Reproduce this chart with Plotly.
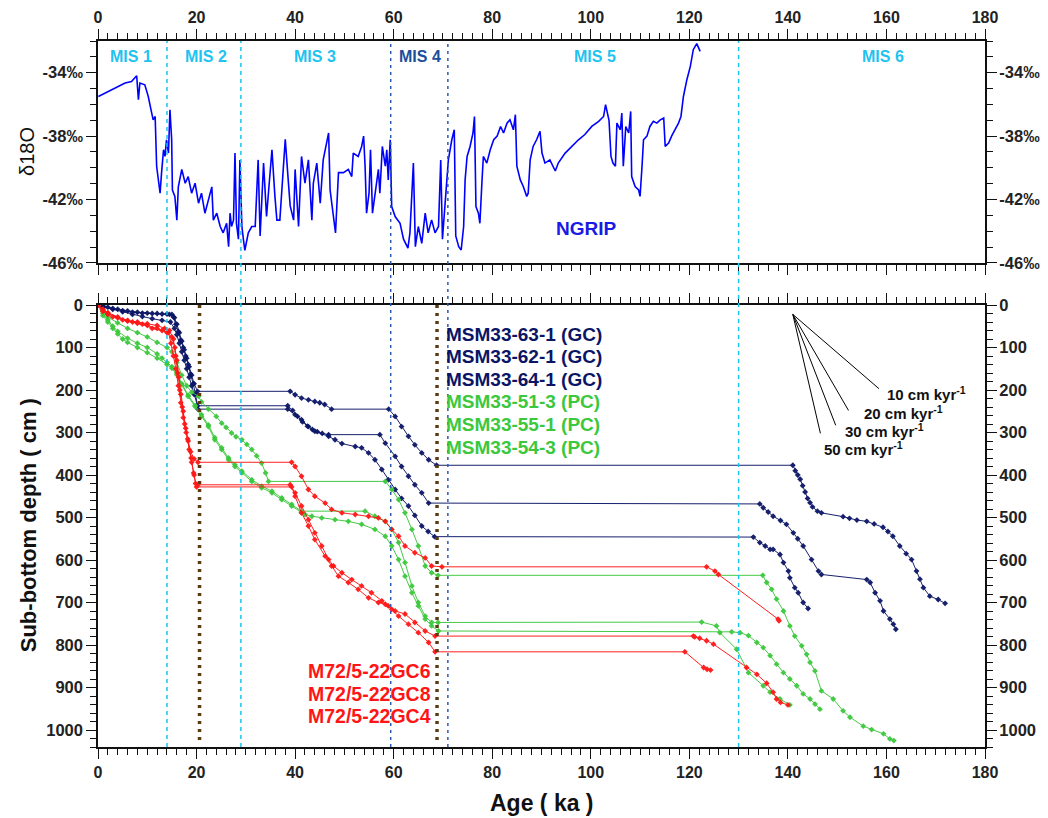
import plotly.graph_objects as go

# ---------------- NGRIP d18O ----------------
ngrip_age = [0.07, 1.4, 2.8, 4.1, 5.5, 6.8, 7.85, 8.2, 8.5, 9.5, 10.2, 10.9, 11.2, 11.6, 11.9, 12.25, 12.6, 12.9,
             13.3, 13.6, 13.9, 14.3, 14.6, 14.95, 15.1, 15.6, 16.0, 16.3, 17.0, 17.7, 18.3, 19.0, 19.7, 20.4, 21.0,
             21.7, 22.4, 23.1, 23.4, 24.1, 24.8, 25.4, 26.1, 26.5, 26.8, 27.1, 27.5, 27.8, 28.1, 28.5, 28.8, 29.2,
             29.5, 29.8, 30.5, 31.2, 31.9, 32.5, 32.9, 33.6, 34.2, 35.3, 35.9, 36.3, 36.9, 38.0, 38.6, 39.0, 39.7,
             40.0, 40.7, 41.3, 42.0, 42.7, 43.4, 43.7, 44.4, 45.1, 45.7, 46.8, 47.1, 47.8, 48.2, 48.8, 49.8, 50.8,
             51.5, 51.8, 52.8, 53.5, 53.9, 54.2, 54.5, 55.0, 55.3, 55.7, 56.2, 56.9, 57.2, 57.7, 58.3, 58.6, 58.9,
             59.3, 59.6, 60.3, 61.3, 62.0, 62.9, 63.3, 64.0, 64.4, 65.0, 65.7, 66.4, 67.0, 67.7, 68.4, 69.1, 69.55,
             69.9, 70.4, 71.1, 71.8, 72.3, 72.6, 73.2, 73.7, 74.2, 74.5, 74.9, 75.5, 76.1, 76.4, 76.7, 77.2, 77.5,
             77.9, 78.2, 78.9, 79.6, 80.3, 81.0, 81.7, 82.3, 83.0, 83.6, 84.3, 84.7, 85.0, 85.7, 86.3, 87.0, 87.3,
             87.7, 88.3, 89.0, 89.7, 90.1, 90.7, 91.7, 92.8, 93.4, 94.8, 96.1, 97.5, 98.8, 100.2, 101.6, 102.6,
             103.0, 103.7, 104.1, 104.5, 105.0, 105.3, 106.0, 106.3, 106.6, 107.1, 107.7, 108.1, 108.3, 109.0,
             109.7, 110.0, 110.4, 110.7, 111.4, 112.0, 112.7, 113.4, 114.1, 114.8, 115.1, 115.8, 116.4, 117.1,
             117.8, 118.3, 118.8, 119.5, 120.2, 120.8, 121.5, 122.2]
ngrip_d18o = [-35.5, -35.28, -35.07, -34.86, -34.65, -34.55, -34.19, -35.7, -34.65, -34.76, -35.5, -36.55, -36.97,
              -36.76, -39.9, -40.76, -41.6, -40.3, -38.86, -39.28, -38.23, -39.07, -36.34, -38.23, -41.4, -41.8,
              -43.3, -41.2, -40.1, -40.97, -40.55, -41.6, -40.97, -42.23, -41.6, -42.86, -42.0, -41.2, -43.3,
              -42.86, -43.7, -44.1, -43.5, -44.97, -42.86, -43.7, -43.3, -39.07, -43.5, -44.5, -39.5, -43.7,
              -44.5, -45.2, -44.1, -43.7, -43.7, -39.5, -44.3, -39.7, -43.07, -38.86, -41.8, -43.3, -43.3, -38.2,
              -40.76, -42.4, -43.3, -40.1, -43.7, -39.28, -40.97, -39.5, -43.3, -40.97, -39.7, -42.23, -39.5,
              -37.8, -41.4, -43.3, -44.1, -40.3, -40.3, -40.1, -40.55, -39.07, -39.28, -38.65, -38.0, -39.9,
              -42.86, -41.6, -38.86, -42.86, -41.8, -40.1, -41.6, -38.65, -39.9, -38.86, -40.76, -38.23, -42.44,
              -43.07, -43.5, -44.5, -45.07, -44.1, -39.7, -44.97, -43.7, -44.76, -42.86, -44.1, -43.28, -44.1,
              -43.7, -39.5, -44.5, -42.44, -39.5, -38.23, -37.6, -44.3, -44.97, -45.18, -43.7, -40.76, -39.28,
              -38.65, -37.8, -36.76, -42.44, -42.86, -43.5, -40.97, -39.28, -39.7, -38.86, -38.23, -38.0, -37.39,
              -37.8, -37.18, -36.97, -37.6, -36.65, -39.9, -40.76, -41.18, -41.8, -41.6, -39.5, -38.65, -38.23,
              -37.7, -39.07, -39.7, -39.5, -40.2, -39.7, -39.07, -38.65, -38.23, -37.9, -37.39, -37.07, -36.76,
              -36.02, -37.0, -39.28, -39.7, -39.9, -37.18, -37.6, -36.55, -39.9, -37.39, -37.8, -36.44, -40.55,
              -41.18, -41.39, -41.8, -39.9, -38.23, -38.0, -37.39, -37.07, -37.18, -36.97, -36.86, -38.65, -38.44,
              -38.0, -37.6, -37.18, -36.76, -35.5, -34.44, -33.6, -32.55, -32.17, -32.65]

# ---------------- Core age-depth series ----------------
n1_age = [0, 1, 2, 4, 6, 8, 10, 12, 14, 15, 15.5, 16, 16.5, 17, 17.5, 18, 18.5, 19, 19.5, 20.2, 39.0, 40.0, 41.3,
          42.7, 44.0, 45.0, 46.0, 47.4, 59.0, 60.3, 61.6, 63.0, 64.3, 65.7, 67.1, 68.7, 141.0, 141.5, 142.0, 142.5,
          143.0, 143.5, 144.0, 144.5, 145.0, 146.0, 146.8, 151.2, 152.5, 154.0, 156.0, 157.5, 159.3, 160.3, 161.3,
          162.7, 164.0, 165.1, 166.1, 166.8, 167.5, 168.8, 170.5, 171.9]
n1_depth = [0, 2, 5, 10, 14, 17, 19, 20, 21, 22, 30, 45, 65, 85, 105, 125, 145, 165, 185, 203, 203, 211, 219,
            223, 227, 230, 234, 245, 245, 262, 286, 309, 329, 348, 364, 377, 377, 390, 400, 410, 425, 440, 455,
            465, 475, 485, 489, 498, 502, 506, 509, 515, 523, 533, 544, 567, 585, 599, 626, 645, 665, 685, 693, 702]

n2_age = [0, 1, 3, 5, 7, 9, 11, 13, 14.7, 15.5, 16, 16.5, 17, 17.5, 18, 18.5, 19, 19.5, 20.2, 38.5, 39.5, 40.5,
          41.5, 42.5, 43.5, 44.5, 45.5, 46.8, 57.2, 58.3, 60.3, 61.6, 63.0, 64.3, 65.7, 67.1, 134.3, 135.0, 136.0,
          137.0, 138.5, 139.7, 141.1, 142.0, 143.1, 144.8, 146.2, 146.8, 156.0, 156.7, 157.7, 158.7, 159.4, 160.7,
          161.4, 161.9]
n2_depth = [0, 5, 10, 16, 22, 27, 32, 36, 40, 55, 70, 90, 110, 130, 150, 170, 190, 210, 237, 237, 248, 262, 275,
            285, 293, 298, 302, 305, 305, 325, 356, 380, 403, 423, 442, 466, 468, 477, 487, 497, 507, 516, 536, 550,
            567, 599, 626, 634, 646, 653, 677, 696, 720, 739, 751, 763]

n3_age = [0, 1, 3, 5, 7, 9, 11, 13, 14.5, 15.3, 15.8, 16.3, 16.8, 17.3, 17.8, 18.3, 18.8, 19.3, 19.8, 20.3, 38.5,
          40.0, 41.3, 42.7, 44.0, 46.8, 48.1, 49.5, 52.2, 53.5, 54.9, 56.2, 57.6, 58.9, 60.3, 61.6, 63.0, 64.3,
          65.7, 67.0, 68.3, 133.0, 134.3, 135.4, 136.4, 137.0, 138.4, 139.1, 140.1, 140.4, 141.4, 142.1, 143.1, 144.1]
n3_depth = [0, 3, 8, 13, 17, 19, 20, 21, 22, 28, 45, 62, 82, 100, 120, 140, 162, 185, 210, 245, 245, 258, 270, 286,
            297, 309, 317, 326, 333, 336, 348, 364, 387, 411, 434, 455, 473, 495, 520, 533, 545, 546, 559, 567, 575,
            575, 587, 606, 626, 642, 665, 677, 700, 714]

g1_age = [0, 1, 2, 4, 6, 8, 10, 12, 14, 15, 16, 17, 18, 19, 20.4, 21, 22.4, 24, 25.1, 26, 27.1, 28, 29.2, 30.2,
          31.2, 32.2, 33.2, 34.0, 34.6, 58.3, 59.6, 61.0, 62.3, 63.7, 65.0, 66.4, 67.7, 69.0, 134.9, 135.7, 136.7,
          137.7, 139.1, 140.4, 141.4, 142.8, 143.8, 144.5, 145.5, 146.8, 149.2, 151.2, 152.6, 155.3, 157.0, 159.4,
          160.7, 161.5]
g1_depth = [0, 15, 28, 42, 55, 65, 75, 88, 100, 110, 135, 165, 190, 205, 215, 228, 245, 262, 278, 288, 301, 310,
            317, 328, 340, 355, 372, 395, 415, 415, 434, 458, 489, 528, 567, 614, 630, 636, 636, 653, 669, 692, 720,
            755, 779, 802, 822, 841, 861, 908, 927, 955, 970, 991, 999, 1009, 1021, 1025]

g2_age = [0, 1, 2, 3, 4, 6, 8, 10, 12, 13, 14, 15, 16, 17, 18.3, 19.7, 21, 22.4, 23.7, 25.1, 26.5, 27.8, 29.2,
          31.2, 33.2, 35.3, 37.3, 39.3, 41.3, 54.2, 56.2, 58.3, 59.6, 61.0, 62.3, 63.7, 65.0, 66.4, 67.7, 69.0,
          122.5, 125.5, 126.2, 129.6, 132.0, 135.0, 136.4, 138.4, 140.4]
g2_depth = [0, 20, 35, 50, 62, 78, 90, 100, 115, 125, 135, 145, 160, 185, 212, 236, 258, 282, 312, 336, 360, 376,
            391, 411, 426, 438, 454, 469, 485, 485, 497, 509, 528, 559, 606, 661, 700, 732, 747, 747, 746, 755, 771,
            810, 865, 896, 911, 927, 941]

g3_age = [0, 1, 2, 3, 4, 5, 6, 8, 10, 12, 14, 15, 16, 17, 18.3, 19.7, 21, 22.4, 23.7, 25.1, 26.5, 27.8, 29.2,
          31.2, 33.2, 35.3, 37.3, 39.3, 41.3, 42.0, 43.4, 45.4, 48.1, 50.8, 53.5, 56.2, 58.3, 59.6, 61.0, 62.3,
          63.7, 65.0, 66.4, 67.7, 69.1, 128.6, 130.3, 132.0, 133.7, 135.0, 136.4, 137.7, 139.1, 140.4, 141.8,
          143.1, 144.5, 145.5, 146.5]
g3_depth = [0, 25, 40, 55, 68, 80, 88, 100, 112, 125, 140, 149, 164, 188, 215, 239, 262, 286, 317, 340, 364, 380,
            395, 415, 430, 442, 458, 473, 489, 493, 497, 501, 505, 509, 516, 528, 544, 567, 599, 638, 677, 708, 739,
            755, 767, 769, 771, 778, 794, 806, 825, 845, 865, 880, 896, 915, 927, 939, 951]

r1_age = [0, 1, 2, 4, 6, 8, 10, 12, 13.5, 14.5, 15.3, 15.8, 16.2, 16.6, 17.1, 17.6, 18.2, 18.8, 19.5, 20.3, 39.3,
          40.0, 41.3, 42.7, 44.0, 46.1, 47.4, 49.5, 52.2, 54.9, 56.9, 58.3, 59.6, 61.0, 62.3, 64.3, 66.4, 67.7,
          69.8, 123.5, 125.2, 125.9, 138.0, 138.2]
r1_depth = [0, 10, 18, 28, 36, 40, 44, 48, 55, 60, 80, 120, 160, 200, 240, 280, 315, 345, 362, 370, 370, 380, 403,
            434, 450, 466, 481, 489, 493, 497, 501, 509, 528, 544, 567, 583, 595, 614, 616, 616, 626, 634, 739, 743]

r2_age = [0, 1, 2, 4, 6, 8, 10, 12, 14, 15, 15.6, 16, 16.4, 16.8, 17.3, 17.8, 18.3, 18.9, 19.4, 19.8, 20.3, 39.0,
          40.0, 41.3, 42.7, 44.0, 45.4, 46.8, 47.8, 49.5, 51.5, 53.5, 55.5, 57.6, 58.9, 60.3, 62.3, 64.3, 66.4,
          68.4, 120.8, 121.1, 122.1, 123.5, 124.9, 131.6, 133.7, 135.7, 137.0, 137.7, 138.5, 140.0]
r2_depth = [0, 12, 20, 30, 38, 43, 48, 55, 65, 75, 100, 130, 170, 210, 250, 290, 320, 360, 395, 420, 423, 423,
            442, 473, 505, 536, 567, 599, 614, 630, 646, 661, 677, 696, 708, 720, 727, 747, 767, 779, 779, 781, 784,
            790, 798, 853, 869, 890, 911, 927, 935, 941]

r3_age = [0, 1, 2, 3, 5, 7, 9, 11, 13, 14.3, 14.8, 15.3, 15.8, 16.3, 16.8, 17.3, 17.9, 18.5, 19.0, 19.5, 20.0,
          39.3, 40.0, 41.3, 42.7, 44.0, 46.1, 47.4, 48.8, 50.8, 52.8, 54.9, 56.9, 58.3, 59.6, 61.0, 63.0, 65.0,
          67.1, 68.4, 119.1, 122.9, 123.6, 124.3]
r3_depth = [0, 15, 22, 28, 35, 40, 45, 55, 60, 64, 90, 120, 150, 190, 230, 265, 300, 340, 370, 400, 428, 428, 450,
            489, 520, 552, 591, 614, 638, 653, 669, 689, 700, 704, 716, 732, 751, 771, 794, 816, 816, 853, 857, 859]

# ---------------- reference lines / labels ----------------
mis_bounds_cyan = [14, 29, 130]
mis_bounds_blue = [59.4, 71]
brown_lines = [20.6, 68.8]
brown_depth_end = 1028
mis_labels = ["MIS 1", "MIS 2", "MIS 3", "MIS 4", "MIS 5", "MIS 6"]
mis_label_x = [6.7, 21.9, 44.0, 65.3, 100.9, 159.3]
mis_label_colors = ["#1EC3F0", "#1EC3F0", "#1EC3F0", "#1B4E9B", "#1EC3F0", "#1EC3F0"]

rate_values = [10, 20, 30, 50]
rate_origin = (141.0, 22.0)
rate_end_age = [158.5, 152.3, 149.7, 146.6]
rate_label_pos = [(159.7, 207), (155.0, 253), (151.2, 296), (146.9, 338)]

navy_names = ["MSM33-63-1 (GC)", "MSM33-62-1 (GC)", "MSM33-64-1 (GC)"]
green_names = ["MSM33-51-3 (PC)", "MSM33-55-1 (PC)", "MSM33-54-3 (PC)"]
red_names = ["M72/5-22GC6", "M72/5-22GC8", "M72/5-22GC4"]
name_depths_top = [70, 122, 176, 228, 282, 336]
name_depths_red = [861, 915, 967]

NAVY = "#0B1565"
GREEN = "#3CC83C"
RED = "#FF1515"
FONT = "Liberation Sans, Arial, sans-serif"

fig = go.Figure()

fig.add_trace(go.Scatter(x=ngrip_age, y=ngrip_d18o, mode="lines", line=dict(color="#0000FF", width=1.6),
                         xaxis="x", yaxis="y", showlegend=False, hoverinfo="skip"))

series = [
    (n1_age, n1_depth, NAVY), (n2_age, n2_depth, NAVY), (n3_age, n3_depth, NAVY),
    (g1_age, g1_depth, GREEN), (g2_age, g2_depth, GREEN), (g3_age, g3_depth, GREEN),
    (r1_age, r1_depth, RED), (r2_age, r2_depth, RED), (r3_age, r3_depth, RED),
]
for a, d, c in series:
    fig.add_trace(go.Scatter(x=a, y=d, mode="lines+markers", line=dict(color=c, width=1),
                             marker=dict(color=c, size=4.5, symbol="diamond"),
                             xaxis="x2", yaxis="y2", showlegend=False, opacity=0.95))

# sedimentation rate fan
for r, ea in zip(rate_values, rate_end_age):
    fig.add_trace(go.Scatter(x=[rate_origin[0], ea], y=[rate_origin[1], rate_origin[1] + r * (ea - rate_origin[0])],
                             mode="lines", line=dict(color="black", width=1), xaxis="x2", yaxis="y2",
                             showlegend=False, hoverinfo="skip"))

shapes = []
for v in mis_bounds_cyan:
    shapes.append(dict(type="line", xref="x", yref="paper", x0=v, x1=v, y0=0, y1=1,
                       line=dict(color="#19C3F0", width=1.5, dash="4px,4px"), layer="above"))
for v in mis_bounds_blue:
    shapes.append(dict(type="line", xref="x", yref="paper", x0=v, x1=v, y0=0, y1=1,
                       line=dict(color="#2A5BAE", width=1.5, dash="3px,4px"), layer="above"))
for v in brown_lines:
    shapes.append(dict(type="line", xref="x2", yref="y2", x0=v, x1=v, y0=0, y1=brown_depth_end,
                       line=dict(color="#5C3A10", width=3.5, dash="3px,5px"), layer="above"))

ann = []
for t, xv, c in zip(mis_labels, mis_label_x, mis_label_colors):
    ann.append(dict(x=xv, y=-33.0, xref="x", yref="y", text=t, showarrow=False,
                    font=dict(family=FONT, size=16, color=c, weight="bold")))
ann.append(dict(x=99.2, y=-43.8, xref="x", yref="y", text="NGRIP", showarrow=False,
                font=dict(family=FONT, size=19, color="#1A1AE6", weight="bold")))
for t, dv in zip(navy_names + green_names, name_depths_top):
    col = NAVY if t in navy_names else GREEN
    ann.append(dict(x=70.2, y=dv, xref="x2", yref="y2", text=t, showarrow=False, xanchor="left",
                    font=dict(family=FONT, size=19, color=col, weight="bold")))
for t, dv in zip(red_names, name_depths_red):
    ann.append(dict(x=67.9, y=dv, xref="x2", yref="y2", text=t, showarrow=False, xanchor="right",
                    font=dict(family=FONT, size=19.5, color=RED, weight="bold")))
for r, (xv, yv) in zip(rate_values, rate_label_pos):
    ann.append(dict(x=xv, y=yv, xref="x2", yref="y2", text=f"{r} cm kyr<sup>-1</sup>", showarrow=False,
                    xanchor="left", font=dict(family=FONT, size=15, color="#111111", weight="bold")))
ann.append(dict(x=0.5, y=-0.079, xref="paper", yref="paper", text="Age ( ka )", showarrow=False,
                xanchor="center", yanchor="middle",
                font=dict(family=FONT, size=23, color="#111111", weight="bold")))
ann.append(dict(x=-0.079, y=0.314, xref="paper", yref="paper", text="Sub-bottom depth ( cm )", showarrow=False,
                xanchor="center", yanchor="middle", textangle=-90,
                font=dict(family=FONT, size=22, color="#111111", weight="bold")))
ann.append(dict(x=-0.080, y=0.843, xref="paper", yref="paper", text="δ18O", showarrow=False,
                xanchor="center", yanchor="middle", textangle=-90,
                font=dict(family=FONT, size=20, color="#111111")))

xtickfont = dict(family=FONT, size=16, color="#222222", weight="bold")
ytickfont = dict(family=FONT, size=16.5, color="#222222", weight="bold")
axcommon = dict(showline=True, linecolor="#111111", linewidth=1.5, ticks="outside", tickcolor="#111111",
                tickwidth=1.2, showgrid=False, zeroline=False, mirror="ticks", automargin=False)

d18_vals = [-46, -42, -38, -34]
d18_text = [f"{v}‰" for v in d18_vals]

top_dom = [0.6856, 1.0]
bot_dom = [0.0, 0.626]

fig.update_layout(
    width=1048, height=818,
    margin=dict(l=98, r=63, t=41, b=71),
    paper_bgcolor="white", plot_bgcolor="white",
    showlegend=False,
    shapes=shapes, annotations=ann,
    xaxis=dict(domain=[0, 1], anchor="y", range=[0, 180], side="top", dtick=20, ticklen=10, tickfont=xtickfont,
               minor=dict(dtick=2, ticklen=6, ticks="outside", tickcolor="#111111"), **axcommon),
    yaxis=dict(domain=top_dom, anchor="x", range=[-46, -32], tickvals=d18_vals, ticktext=d18_text, ticklen=10,
               tickfont=ytickfont,
               minor=dict(dtick=1, ticklen=6, ticks="outside", tickcolor="#111111"), **axcommon),
    yaxis3=dict(domain=top_dom, anchor="x", overlaying="y", side="right", range=[-46, -32], tickvals=d18_vals,
                ticktext=d18_text, ticks="outside", ticklen=10, tickcolor="rgba(0,0,0,0)", showline=False,
                showgrid=False, zeroline=False, tickfont=ytickfont, automargin=False),
    xaxis2=dict(domain=[0, 1], anchor="y2", range=[0, 180], side="bottom", dtick=20, ticklen=10,
                tickfont=xtickfont,
                minor=dict(dtick=2, ticklen=6, ticks="outside", tickcolor="#111111"), **axcommon),
    yaxis2=dict(domain=bot_dom, anchor="x2", range=[1040, 0], dtick=100, ticklen=10, tickfont=ytickfont,
                minor=dict(dtick=20, ticklen=6, ticks="outside", tickcolor="#111111"), **axcommon),
    yaxis4=dict(domain=bot_dom, anchor="x2", overlaying="y2", side="right", range=[1040, 0], dtick=100,
                ticks="outside", ticklen=10, tickcolor="rgba(0,0,0,0)", showline=False, showgrid=False,
                zeroline=False, tickfont=ytickfont, automargin=False),
)
# dummy traces so the right-side overlay axes render
fig.add_trace(go.Scatter(x=[None], y=[None], xaxis="x", yaxis="y3", showlegend=False))
fig.add_trace(go.Scatter(x=[None], y=[None], xaxis="x2", yaxis="y4", showlegend=False))

fig.write_html("out.html", config={"displayModeBar": False},
               post_script="document.body.style.margin='0px';document.body.style.overflow='hidden';")
